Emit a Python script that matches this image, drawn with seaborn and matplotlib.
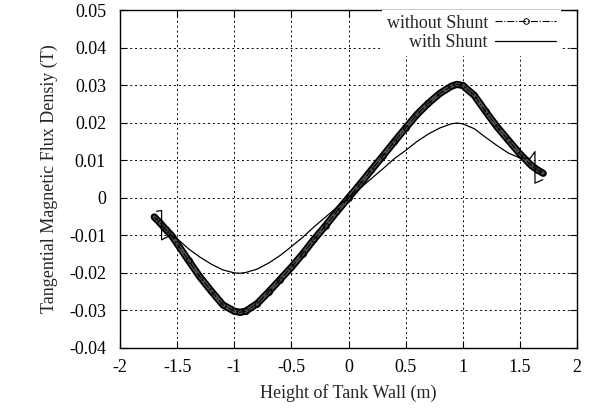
import pandas as pd
import matplotlib
matplotlib.use("Agg")
import matplotlib.pyplot as plt
import seaborn as sns

# Values
x_without = [-1.70, -1.65, -1.60, -1.55, -1.50, -1.40, -1.30, -1.20, -1.10, -1.00,
             -0.95, -0.90, -0.80, -0.70, -0.60, -0.50, -0.40, -0.30, -0.20, -0.10,
             0.00, 0.10, 0.20, 0.30, 0.40, 0.50, 0.60, 0.70, 0.80, 0.90,
             0.95, 1.00, 1.10, 1.20, 1.30, 1.40, 1.50, 1.60, 1.65, 1.70]
y_without = [-0.0051, -0.0067, -0.0084, -0.0100, -0.0122, -0.0167, -0.0211, -0.0249, -0.0285, -0.0302,
             -0.0305, -0.0302, -0.0282, -0.0251, -0.0218, -0.0185, -0.0149, -0.0110, -0.0074, -0.0036,
             0.0000, 0.0036, 0.0074, 0.0111, 0.0149, 0.0186, 0.0222, 0.0252, 0.0278, 0.0297,
             0.0302, 0.0299, 0.0273, 0.0230, 0.0189, 0.0153, 0.0117, 0.0086, 0.0075, 0.0066]

x_with = [-1.68, -1.636, -1.636, -1.56, -1.50, -1.40, -1.30, -1.20, -1.10, -1.00,
          -0.95, -0.90, -0.80, -0.70, -0.60, -0.50, -0.40, -0.30, -0.20, -0.10,
          0.00, 0.10, 0.20, 0.30, 0.40, 0.50, 0.60, 0.70, 0.80, 0.90,
          0.95, 1.00, 1.10, 1.20, 1.30, 1.40, 1.50, 1.59, 1.632, 1.632, 1.70]
y_with = [-0.0036, -0.0034, -0.0112, -0.0100, -0.0109, -0.0136, -0.0158, -0.0177, -0.0192, -0.0200,
          -0.0201, -0.0199, -0.0190, -0.0174, -0.0154, -0.0130, -0.0105, -0.0077, -0.0051, -0.0025,
          0.0000, 0.0025, 0.0051, 0.0077, 0.0104, 0.0126, 0.0150, 0.0170, 0.0186, 0.0197,
          0.0199, 0.0197, 0.0184, 0.0161, 0.0139, 0.0119, 0.0106, 0.0105, 0.0123, 0.0039, 0.0048]

x_ticks = [-2, -1.5, -1, -0.5, 0, 0.5, 1, 1.5, 2]
x_labels = ["-2", "-1.5", "-1", "-0.5", "0", "0.5", "1", "1.5", "2"]
y_ticks = [-0.04, -0.03, -0.02, -0.01, 0, 0.01, 0.02, 0.03, 0.04, 0.05]
y_labels = ["-0.04", "-0.03", "-0.02", "-0.01", "0", "0.01", "0.02", "0.03", "0.04", "0.05"]

sns.set_style("ticks")
plt.rcParams['font.family'] = ['Liberation Serif', 'DejaVu Serif']
plt.rcParams['axes.unicode_minus'] = False
FS = 13

df_wo = pd.DataFrame({"x": x_without, "y": y_without})
df_w = pd.DataFrame({"x": x_with, "y": y_with})

fig = plt.figure(figsize=(5.95, 4.13), dpi=100)
ax = fig.add_axes([120 / 595, 1 - 348 / 413, 457 / 595, 338 / 413])

# dense circle band of the "without Shunt" curve
sns.lineplot(data=df_wo, x="x", y="y", ax=ax, sort=False, estimator=None,
             color="black", lw=5.2, legend=False, solid_capstyle="round", zorder=3)
sns.lineplot(data=df_wo, x="x", y="y", ax=ax, sort=False, estimator=None,
             color="#555555", lw=2.6, legend=False, solid_capstyle="round", zorder=3)
sns.lineplot(data=df_wo, x="x", y="y", ax=ax, sort=False, estimator=None,
             color="black", lw=0.8, linestyle="-.", marker="o", markersize=4,
             markerfacecolor="none", markeredgecolor="black", markeredgewidth=0.7,
             label="without Shunt", zorder=4)
sns.lineplot(data=df_w, x="x", y="y", ax=ax, sort=False, estimator=None,
             color="black", lw=0.9, label="with Shunt", zorder=5)

ax.set_xlim(-2, 2)
ax.set_ylim(-0.04, 0.05)
ax.set_xticks(x_ticks)
ax.set_xticklabels(x_labels, fontsize=FS)
ax.set_yticks(y_ticks)
ax.set_yticklabels(y_labels, fontsize=FS)
ax.tick_params(direction="in", length=5, width=0.8, top=True, right=True, pad=8, colors="black")
ax.tick_params(axis="y", pad=10)
for s in ax.spines.values():
    s.set_linewidth(1.0)
    s.set_color("black")

ax.grid(True, color="black", linestyle=(0, (2, 3)), linewidth=0.7)
ax.set_axisbelow(True)

ax.set_xlabel("Height of Tank Wall (m)", fontsize=FS, labelpad=6)
ax.set_ylabel("Tangential Magnetic Flux Densiy (T)", fontsize=FS, labelpad=8)

leg = ax.legend(loc="upper right", bbox_to_anchor=(0.965, 1.0), markerfirst=False,
                fontsize=FS, handlelength=3.4, handletextpad=0.4, labelspacing=0.15,
                borderpad=0.25, borderaxespad=0.0, frameon=True, fancybox=False,
                facecolor="white", edgecolor="none", framealpha=1.0)
leg.set_zorder(6)

fig.savefig("out.png", dpi=100)
